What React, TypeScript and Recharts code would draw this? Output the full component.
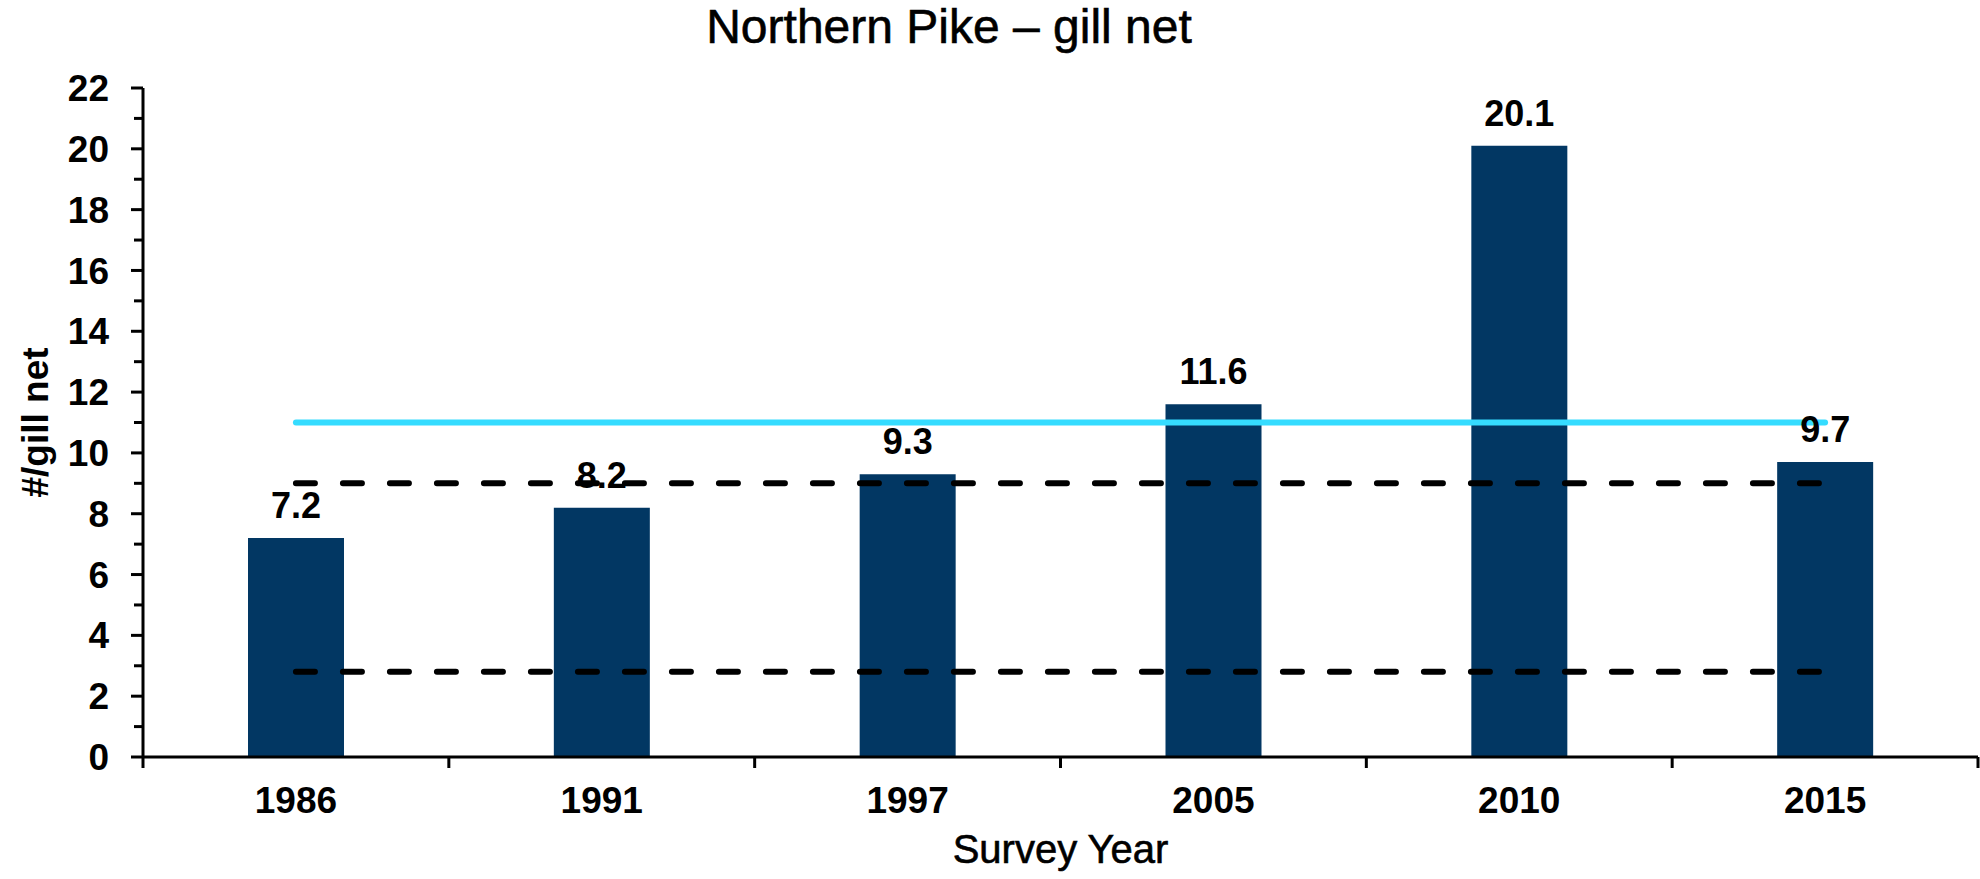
import React from 'react';
import { BarChart, Bar, XAxis, YAxis, ReferenceLine, LabelList, Label } from 'recharts';

const years = ['1986', '1991', '1997', '2005', '2010', '2015'];
const catchPerNet = [7.2, 8.2, 9.3, 11.6, 20.1, 9.7];
const yTicks = [0, 1, 2, 3, 4, 5, 6, 7, 8, 9, 10, 11, 12, 13, 14, 15, 16, 17, 18, 19, 20, 21, 22];
const statewideMedian = 11;
const rangeLow = 2.8;
const rangeHigh = 9.0;

const data = years.map((year, i) => ({ year, value: catchPerNet[i] }));

const W = 1980;
const H = 879;
const LEFT = 143;
const RIGHT = 2;
const TOP = 88;
const XAXIS_H = 122;
const BAND = (W - LEFT - RIGHT) / years.length;
const FONT = '"Liberation Sans", Arial, sans-serif';

const YTick = (props: any) => {
  const { x, y, payload } = props;
  const v = payload.value as number;
  const major = v % 2 === 0;
  const len = major ? 12 : 9;
  return (
    <g>
      <line x1={LEFT - len} x2={LEFT} y1={y} y2={y} stroke="#000" strokeWidth={3} />
      {major && (
        <text x={x} y={y} dy="0.355em" textAnchor="end" fontSize={37} fontWeight="bold" fontFamily={FONT} fill="#000">
          {v}
        </text>
      )}
    </g>
  );
};

const XTick = (props: any) => {
  const { x, y, payload, index } = props;
  const axisY = H - XAXIS_H;
  const last = index === years.length - 1;
  return (
    <g>
      <line x1={x - BAND / 2} x2={x - BAND / 2} y1={axisY} y2={axisY + 11} stroke="#000" strokeWidth={3} />
      {last && <line x1={x + BAND / 2} x2={x + BAND / 2} y1={axisY} y2={axisY + 11} stroke="#000" strokeWidth={3} />}
      <text x={x} y={y} dy="0.71em" textAnchor="middle" fontSize={37} fontWeight="bold" fontFamily={FONT} fill="#000">
        {payload.value}
      </text>
    </g>
  );
};

export default function App() {
  return (
    <div style={{ position: 'absolute', left: 0, top: 0, width: W, height: H, background: '#fff' }}>
      <svg width={W} height={60} style={{ position: 'absolute', left: 0, top: 0 }}>
        <text x={949} y={43} textAnchor="middle" fontSize={48} fontFamily={FONT} fill="#000" stroke="#000" strokeWidth={0.6}>
          Northern Pike – gill net
        </text>
      </svg>
      <BarChart
        width={W}
        height={H}
        data={data}
        margin={{ top: TOP, right: RIGHT, left: 0, bottom: 0 }}
        barSize={96}
      >
        <XAxis
          dataKey="year"
          height={XAXIS_H}
          axisLine={{ stroke: '#000', strokeWidth: 3 }}
          tickLine={false}
          tickSize={11}
          tickMargin={19}
          tick={<XTick />}
          interval={0}
        >
          <Label
            value="Survey Year"
            position="insideBottom"
            offset={16}
            fontSize={40}
            fontFamily={FONT}
            fill="#000"
            stroke="#000"
            strokeWidth={0.6}
          />
        </XAxis>
        <YAxis
          width={LEFT}
          domain={[0, 22]}
          ticks={yTicks}
          interval={0}
          axisLine={{ stroke: '#000', strokeWidth: 3 }}
          tickLine={false}
          tickSize={12}
          tickMargin={22}
          tick={<YTick />}
        >
          <Label
            value="#/gill net"
            angle={-90}
            position="insideLeft"
            offset={35}
            fontSize={37}
            fontWeight="bold"
            fontFamily={FONT}
            fill="#000"
            style={{ textAnchor: 'middle' }}
          />
        </YAxis>
        <Bar dataKey="value" fill="#023763" isAnimationActive={false}>
          <LabelList
            dataKey="value"
            position="top"
            offset={20}
            fontSize={36}
            fontWeight="bold"
            fontFamily={FONT}
            fill="#000"
          />
        </Bar>
        <ReferenceLine
          segment={[{ x: years[0], y: statewideMedian }, { x: years[years.length - 1], y: statewideMedian }]}
          stroke="#35DCFF"
          strokeWidth={6}
          strokeLinecap="round"
        />
        <ReferenceLine
          segment={[{ x: years[0], y: rangeHigh }, { x: years[years.length - 1], y: rangeHigh }]}
          stroke="#000"
          strokeWidth={6}
          strokeLinecap="round"
          strokeDasharray="19 28"
        />
        <ReferenceLine
          segment={[{ x: years[0], y: rangeLow }, { x: years[years.length - 1], y: rangeLow }]}
          stroke="#000"
          strokeWidth={6}
          strokeLinecap="round"
          strokeDasharray="19 28"
        />
      </BarChart>
    </div>
  );
}
